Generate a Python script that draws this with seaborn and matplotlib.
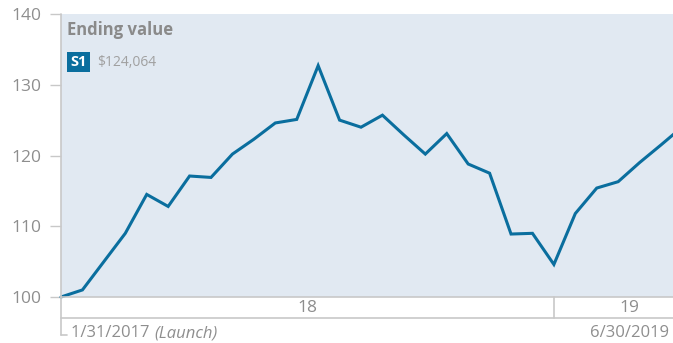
import matplotlib
matplotlib.use("Agg")
import matplotlib.pyplot as plt
import seaborn as sns
import numpy as np
import pandas as pd

# ---- data ----
values = [100.0, 101.0, 105.0, 109.0, 114.5, 112.8, 117.1, 116.9, 120.2, 122.3,
          124.6, 125.1, 132.7, 125.0, 124.0, 125.7, 122.9, 120.2, 123.1, 118.8,
          117.5, 108.9, 109.0, 104.6, 111.8, 115.4, 116.3, 119.0, 121.5, 124.064]
year_labels = ["18", "19"]
year_centers = [11.5, 26.5]
year_break = 23
y_ticks = [100, 110, 120, 130, 140]
series_name = "S1"
ending_value = "$124,064"
start_label = "1/31/2017"
start_note = "(Launch)"
end_label = "6/30/2019"

df = pd.DataFrame({"idx": np.arange(len(values)), "value": values})

sns.set_style("white")
plt.rcParams["font.family"] = ["Open Sans", "DejaVu Sans"]

W, H = 673, 343
fig = plt.figure(figsize=(W / 100, H / 100), dpi=100)
x0, x1, ytop, ybot = 61, 673, 14, 297
ax = fig.add_axes([x0 / W, (H - ybot) / H, (x1 - x0) / W, (ybot - ytop) / H])
ax.set_facecolor("#E1E9F2")

sns.lineplot(data=df, x="idx", y="value", ax=ax, color="#0A6E9E", lw=2.2)
for l in ax.lines:
    l.set_clip_on(False)
    l.set_solid_joinstyle("miter")

step = 21.43
ax.set_xlim(0, (x1 - x0) / step)
ax.set_ylim(100, 140)
ax.set_xlabel("")
ax.set_ylabel("")
ax.set_xticks([])
ax.set_yticks(y_ticks)
txtc = "#8E8E8E"
ax.tick_params(axis="y", length=8, width=1, color="#C8C8C8", labelcolor=txtc,
               labelsize=12.5, pad=6, left=True)
for s in ["top", "right", "left"]:
    ax.spines[s].set_visible(False)
ax.spines["bottom"].set_color("#C8C8C8")
ax.spines["bottom"].set_linewidth(1.2)

gray = "#C8C8C8"
trans = ax.get_xaxis_transform()
axh = ybot - ytop
band_y = -(318 - ybot) / axh
low_y = -(335 - ybot) / axh
ax.plot([0, 0], [1, low_y], transform=trans, color=gray, lw=1.2, clip_on=False)
ax.plot([0, 6 / step], [low_y, low_y], transform=trans, color=gray, lw=1.2, clip_on=False)
ax.plot([0, ax.get_xlim()[1]], [band_y, band_y], transform=trans, color=gray, lw=1.2, clip_on=False)
ax.plot([year_break, year_break], [0, band_y], transform=trans, color=gray, lw=1.2, clip_on=False)
for lab, c in zip(year_labels, year_centers):
    ax.text(c, band_y / 2, lab, transform=trans, ha="center", va="center",
            color=txtc, fontsize=12.5, clip_on=False)

# bottom date labels
ty = (H - 333) / H
t1 = fig.text(71 / W, ty, start_label + " ", ha="left", va="center", color=txtc, fontsize=12)
fig.canvas.draw()
bb = t1.get_window_extent()
fig.text(bb.x1 / W, ty, start_note, ha="left", va="center", color=txtc, fontsize=12,
         style="italic")
fig.text(669 / W, ty, end_label, ha="right", va="center", color=txtc, fontsize=12)

# legend block
fig.text(67 / W, (H - 30) / H, "Ending value", ha="left", va="center", color="#8A8A8A",
         fontsize=12, fontweight="bold")
fig.text(78.5 / W, (H - 62) / H, series_name, ha="center", va="center", color="white",
         fontsize=10.5, fontweight="bold",
         bbox=dict(boxstyle="square,pad=0.2", fc="#0A6E9E", ec="none"))
fig.text(97 / W, (H - 62) / H, ending_value, ha="left", va="center", color="#A0A0A0",
         fontsize=10)

fig.savefig("out.png", dpi=100)
